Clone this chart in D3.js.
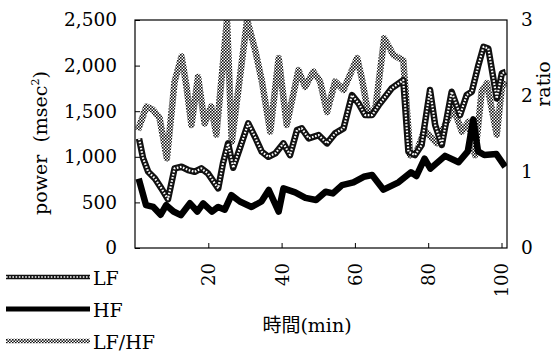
<!DOCTYPE html>
<html>
<head>
<meta charset="utf-8">
<script src="https://cdn.jsdelivr.net/npm/d3@7"></script>
<style>
	body { margin: 0; background: #fff; }
	svg { display: block; }
	text { font-family: 'DejaVu Serif', 'Liberation Serif', serif; fill: #000; }
</style>
</head>
<body>
<svg id="chart" width="556" height="353"></svg>
<script>
// minutes / values
const lfTime = [1.1, 2.2, 3.6, 5.4, 7.2, 9, 10.8, 12.7, 14.5, 16.3, 18.1, 19.9, 22.7, 24, 25.4, 26.8, 28.6, 30.9, 32.7,
	34.6, 36.4, 38.3, 40.5, 42.3, 44.2, 45.5, 47.4, 50.1, 52.4, 54.6, 56.9, 59.2, 61, 62.8, 64.7, 66.5, 67.9, 70, 73.2,
	74.6, 76.4, 78.2, 80.5, 81.9, 83.7, 86.4, 88.7, 90.5, 91.9, 93.7, 95.1, 96.4, 98.7, 100.1, 101.2];
const lfValue = [1200, 985, 836, 764, 654, 535, 873, 891, 855, 836, 873, 818, 654, 928, 1147, 880, 1092, 1367, 1220,
	1055, 1000, 1038, 1147, 1019, 1293, 1312, 1202, 1238, 1147, 1257, 1312, 1677, 1586, 1458, 1458, 1567, 1640, 1750, 1841,
	1055, 1019, 1129, 1732, 1348, 1129, 1713, 1458, 1677, 1713, 2006, 2206, 2188, 1640, 1915, 1932];

const hfTime = [1, 3, 5, 7, 8.5, 10.5, 12.5, 15, 17, 18.6, 21, 22.7, 24.5, 26.3, 28.6, 31.8, 34.5, 36.5, 39.2, 40.5,
	43.7, 46.5, 49.4, 52, 54, 56.5, 59.6, 62.4, 64.7, 67.8, 71.9, 75.3, 76.8, 79, 80.6, 84.6, 88.3, 90.8, 92.3, 93.6,
	95.3, 98.6, 101];
const hfValue = [760, 470, 450, 365, 470, 400, 360, 490, 400, 490, 400, 450, 420, 580, 510, 450, 510, 636, 400, 654,
	610, 550, 526, 617, 599, 690, 720, 781, 800, 640, 720, 830, 790, 980, 870, 1010, 940, 1060, 1410, 1060,
	1020, 1030, 890];

const ratioTime = [0.8, 3.1, 4.9, 6.7, 8.7, 10.8, 12.7, 14, 15.4, 17.2, 19, 20.8, 22.2, 25.1, 26.4, 30.6, 32.8,
	34.6, 36.9, 39.2, 41.4, 44.6, 46.4, 48.7, 50.5, 52.4, 54.6, 56.9, 60.6, 61.9, 63.7, 65.6, 68, 70.5, 73.2, 75.1,
	76.9, 79, 82.3, 84.6, 86.9, 89.2, 91, 92.8, 94.6, 96, 98.7, 100.1, 101.2];
const ratioValue = [1.55, 1.86, 1.82, 1.71, 1.18, 2.19, 2.52, 2.14, 1.62, 2.25, 1.64, 1.86, 1.49, 3.0, 1.4, 3.0, 2.6,
	2.2, 1.53, 2.5, 1.62, 2.34, 2.12, 2.32, 2.19, 1.79, 2.19, 2.08, 2.5, 2.23, 1.75, 1.84, 2.76, 2.54, 2.47, 1.22,
	1.27, 1.55, 1.38, 1.62, 1.84, 1.53, 1.66, 1.22, 2.06, 2.17, 1.49, 2.12, 2.19];

const powerTicks = [0, 500, 1000, 1500, 2000, 2500];
const ratioTicks = [0, 1, 2, 3];
const timeTicks = [20, 40, 60, 80, 100];
const legendItems = ['LF', 'HF', 'LF/HF'];

const serif = "'DejaVu Serif', 'Liberation Serif', serif";
const svg = d3.select('#chart');
const plotLeft = 135, plotRight = 507, plotTop = 20, plotBottom = 248;

const x = d3.scaleLinear().domain([0, 101.5]).range([plotLeft, plotRight]);
const yPower = d3.scaleLinear().domain([0, 2500]).range([plotBottom, plotTop]);
const yRatio = d3.scaleLinear().domain([0, 3]).range([plotBottom, plotTop]);

// stroke textures
const defs = svg.append('defs');
const checker = defs.append('pattern')
	.attr('id', 'checker')
	.attr('patternUnits', 'userSpaceOnUse')
	.attr('width', 3).attr('height', 3);
checker.append('rect').attr('width', 3).attr('height', 3).attr('fill', '#fff');
checker.append('rect').attr('width', 1.6).attr('height', 1.6).attr('fill', '#111');
checker.append('rect').attr('x', 1.5).attr('y', 1.5).attr('width', 1.6).attr('height', 1.6).attr('fill', '#111');

defs.append('clipPath').attr('id', 'plotClip')
	.append('rect')
	.attr('x', plotLeft).attr('y', plotTop)
	.attr('width', plotRight - plotLeft).attr('height', plotBottom - plotTop);

function toPoints(times, values) {
	return times.map((t, i) => [t, values[i]]);
}

const plot = svg.append('g').attr('clip-path', 'url(#plotClip)');

const ratioLine = d3.line().x((d) => x(d[0])).y((d) => yRatio(d[1]));
const powerLine = d3.line().x((d) => x(d[0])).y((d) => yPower(d[1]));

// LF/HF
plot.append('path')
	.attr('d', ratioLine(toPoints(ratioTime, ratioValue)))
	.attr('fill', 'none')
	.attr('stroke', 'url(#checker)')
	.attr('stroke-width', 6.5)
	.attr('stroke-linejoin', 'round');

// LF
const lfD = powerLine(toPoints(lfTime, lfValue));
plot.append('path')
	.attr('d', lfD)
	.attr('fill', 'none')
	.attr('stroke', '#111')
	.attr('stroke-width', 6.5)
	.attr('stroke-linejoin', 'round');
plot.append('path')
	.attr('d', lfD)
	.attr('fill', 'none')
	.attr('stroke', '#fff')
	.attr('stroke-width', 2.2)
	.attr('stroke-dasharray', '1.6 1.6')
	.attr('stroke-linejoin', 'round');

// HF
plot.append('path')
	.attr('d', powerLine(toPoints(hfTime, hfValue)))
	.attr('fill', 'none')
	.attr('stroke', '#000')
	.attr('stroke-width', 6.5)
	.attr('stroke-linejoin', 'round');

// frame
svg.append('rect')
	.attr('x', plotLeft).attr('y', plotTop)
	.attr('width', plotRight - plotLeft).attr('height', plotBottom - plotTop)
	.attr('fill', 'none')
	.attr('stroke', '#000')
	.attr('stroke-width', 1.2);

const leftAxis = svg.append('g')
	.attr('transform', `translate(${plotLeft},0)`)
	.call(d3.axisLeft(yPower).tickValues(powerTicks).tickFormat(d3.format(',')).tickSize(-5).tickPadding(18));
leftAxis.attr('font-family', serif).attr('font-size', 18.5);
leftAxis.select('.domain').remove();

const rightAxis = svg.append('g')
	.attr('transform', `translate(${plotRight},0)`)
	.call(d3.axisRight(yRatio).tickValues(ratioTicks).tickFormat(d3.format('d')).tickSize(0).tickPadding(14));
rightAxis.attr('font-family', serif).attr('font-size', 18.5);
rightAxis.select('.domain').remove();

const bottomAxis = svg.append('g')
	.attr('transform', `translate(0,${plotBottom})`)
	.call(d3.axisBottom(x).tickValues(timeTicks).tickSize(-5));
bottomAxis.attr('font-family', serif).attr('font-size', 18);
bottomAxis.select('.domain').remove();
bottomAxis.selectAll('text')
	.attr('transform', 'rotate(-90)')
	.attr('x', -15)
	.attr('y', 0)
	.attr('dy', '0.36em')
	.attr('text-anchor', 'end');

// axis titles
const powerTitle = svg.append('text')
	.attr('transform', 'translate(47,143) rotate(-90)')
	.attr('text-anchor', 'middle')
	.attr('font-size', 19)
	.attr('xml:space', 'preserve');
powerTitle.append('tspan').text('power  (msec');
powerTitle.append('tspan').attr('dy', -8).attr('font-size', 11).text('2');
powerTitle.append('tspan').attr('dy', 8).text(')');

svg.append('text')
	.attr('transform', 'translate(550,84) rotate(-90)')
	.attr('text-anchor', 'middle')
	.attr('font-size', 19)
	.text('ratio');

svg.append('text')
	.attr('x', 307).attr('y', 332)
	.attr('text-anchor', 'middle')
	.attr('font-size', 19)
	.style('font-family', "'DejaVu Serif', 'Noto Sans CJK JP', serif")
	.text('時間(min)');

// legend
const legendY = d3.scalePoint().domain(legendItems).range([277, 341]);
const legend = svg.append('g');
legendItems.forEach((name) => {
	const yy = legendY(name);
	if (name === 'LF') {
		legend.append('line').attr('x1', 6).attr('x2', 90).attr('y1', yy).attr('y2', yy)
			.attr('stroke', '#111').attr('stroke-width', 4.5);
		legend.append('line').attr('x1', 6).attr('x2', 90).attr('y1', yy).attr('y2', yy)
			.attr('stroke', '#fff').attr('stroke-width', 1.5).attr('stroke-dasharray', '1.6 1.6');
	} else if (name === 'HF') {
		legend.append('line').attr('x1', 6).attr('x2', 90).attr('y1', yy).attr('y2', yy)
			.attr('stroke', '#000').attr('stroke-width', 5);
	} else {
		legend.append('line').attr('x1', 6).attr('x2', 90).attr('y1', yy).attr('y2', yy)
			.attr('stroke', 'url(#checker)').attr('stroke-width', 4.5);
	}
	legend.append('text')
		.attr('x', 93).attr('y', yy + 8)
		.attr('font-size', 19)
		.text(name);
});
</script>
</body>
</html>
